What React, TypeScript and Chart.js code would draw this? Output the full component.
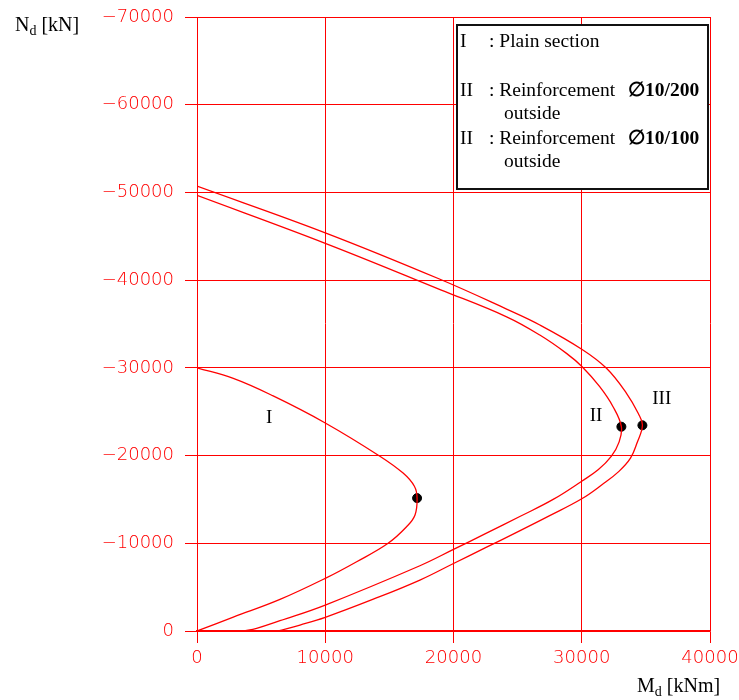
import React, { useEffect, useRef } from "react";
import { Chart, registerables } from "chart.js";

Chart.register(...registerables);

// Curve I : plain section  (M [kNm], N [kN])
const M_I = [0, 2830, 5940, 10000, 14260, 16070, 16950, 17160, 17000, 16340, 14900, 12450, 10000, 6470, 2830, 0];
const N_I = [-30000, -28800, -26800, -23720, -19930, -18000, -16500, -15150, -13230, -11880, -10000, -7900, -6000, -3600, -1580, 0];

// Curve II : reinforcement Ø10/200 outside
const M_II = [0, 10000, 19000, 24140, 26730, 28810, 30030, 31400, 32440, 33090, 32900, 32300, 31300, 30000, 27770, 25170, 22570, 20000, 17380, 10000, 6470, 4650, 3600];
const N_II = [-49660, -44200, -38900, -35820, -33740, -31650, -30130, -27850, -25570, -23290, -21500, -19900, -18400, -17080, -15000, -13050, -11150, -9300, -7440, -2960, -1170, -300, 0];

// Curve III : reinforcement Ø10/100 outside
const M_III = [0, 10000, 18950, 24140, 26730, 30030, 31930, 33490, 34400, 34730, 34300, 33800, 32900, 31600, 30000, 27500, 25000, 22500, 20000, 17380, 13700, 10000, 8030, 6330];
const N_III = [-50720, -45400, -40100, -36700, -34890, -32100, -29950, -27100, -24820, -23450, -21400, -19700, -18200, -16700, -15070, -13150, -11300, -9500, -7700, -5810, -3600, -1560, -680, 0];

// Marked points (nose of each curve)
const DOT_M = [17160, 33090, 34730];
const DOT_N = [-15150, -23290, -23450];

// Curve labels
const LABEL_TEXT = ["I", "II", "III"];
const LABEL_M = [5630, 31120, 36240];
const LABEL_N = [-23750, -23980, -25880];

const X_MIN = 0;
const X_MAX = 40000;
const Y_MIN = -70000;
const Y_MAX = 0;
const STEP = 10000;

const RED = "rgb(255,0,0)";

const toPts = (xs: number[], ys: number[]) => xs.map((x, i) => ({ x, y: ys[i] }));

const annotations = {
  id: "annotations",
  afterDraw(chart: any) {
    const ctx = chart.ctx as CanvasRenderingContext2D;
    const xs = chart.scales.x;
    const ys = chart.scales.y;
    ctx.save();
    // curve labels
    ctx.fillStyle = "#000";
    ctx.font = "19px 'Liberation Serif', 'Times New Roman', serif";
    ctx.textAlign = "center";
    ctx.textBaseline = "alphabetic";
    LABEL_TEXT.forEach((t, i) => {
      ctx.fillText(t, xs.getPixelForValue(LABEL_M[i]), ys.getPixelForValue(LABEL_N[i]));
    });

    // legend box
    ctx.fillStyle = "#fff";
    ctx.fillRect(457, 25, 251, 164);
    ctx.strokeStyle = "#111";
    ctx.lineWidth = 2;
    ctx.strokeRect(457, 25, 251, 164);

    ctx.fillStyle = "#000";
    ctx.textAlign = "left";
    const serif = "19.5px 'Liberation Serif', 'Times New Roman', serif";
    const serifB = "bold 19.5px 'Liberation Serif', 'Times New Roman', serif";
    ctx.font = serif;
    ctx.fillText("I", 460, 47);
    ctx.fillText(": Plain section", 489, 47);
    ctx.fillText("II", 460, 96);
    ctx.fillText(": Reinforcement", 489, 96);
    ctx.fillText("outside", 504, 119);
    ctx.fillText("II", 460, 144);
    ctx.fillText(": Reinforcement", 489, 144);
    ctx.fillText("outside", 504, 167);
    ctx.font = serifB;
    ctx.fillText("\u220510/200", 628, 96);
    ctx.fillText("\u220510/100", 628, 144);

    // axis titles
    const title = "20px 'Liberation Serif', 'Times New Roman', serif";
    const sub = "14px 'Liberation Serif', 'Times New Roman', serif";
    let x = 15;
    ctx.font = title;
    ctx.fillText("N", x, 31);
    x += ctx.measureText("N").width;
    ctx.font = sub;
    ctx.fillText("d", x, 35);
    x += ctx.measureText("d").width;
    ctx.font = title;
    ctx.fillText(" [kN]", x, 31);

    x = 637;
    ctx.fillText("M", x, 692);
    x += ctx.measureText("M").width;
    ctx.font = sub;
    ctx.fillText("d", x, 696);
    x += ctx.measureText("d").width;
    ctx.font = title;
    ctx.fillText(" [kNm]", x, 692);
    ctx.restore();
  },
};

export default function App() {
  const ref = useRef<HTMLCanvasElement | null>(null);
  useEffect(() => {
    if (!ref.current) return;
    const lineDs = (label: string, xs: number[], ys: number[]) => ({
      label,
      data: toPts(xs, ys),
      showLine: true,
      borderColor: RED,
      borderWidth: 1.3,
      pointRadius: 0,
      tension: 0.4,
      fill: false,
    });
    const tickFont = { family: "'DejaVu Sans', sans-serif", size: 18, weight: "200" as any };
    const chart = new Chart(ref.current, {
      type: "scatter",
      data: {
        datasets: [
          lineDs("I", M_I, N_I),
          lineDs("II", M_II, N_II),
          lineDs("III", M_III, N_III),
          {
            label: "points",
            data: toPts(DOT_M, DOT_N),
            pointRadius: 4.5,
            pointBackgroundColor: "#000",
            pointBorderColor: "#000",
            showLine: false,
          } as any,
        ],
      },
      options: {
        animation: false,
        responsive: false,
        layout: { padding: { top: 17, right: 29, left: 0, bottom: 0 } },
        plugins: { legend: { display: false }, tooltip: { enabled: false } },
        scales: {
          x: {
            type: "linear",
            min: X_MIN,
            max: X_MAX,
            afterFit: (s: any) => {
              s.height = 69;
              s.paddingLeft = 0;
              s.paddingRight = 0;
            },
            ticks: { stepSize: STEP, color: RED, font: tickFont, padding: 5, maxRotation: 0, callback: (v: any) => String(v) },
            grid: { color: RED, lineWidth: 1, tickLength: 12, tickColor: RED, tickWidth: 1 },
            border: { color: RED, width: 1.5 },
          },
          y: {
            type: "linear",
            min: Y_MIN,
            max: Y_MAX,
            reverse: true,
            afterFit: (s: any) => {
              s.width = 197;
              s.paddingTop = 0;
              s.paddingBottom = 0;
            },
            ticks: {
              stepSize: STEP,
              color: RED,
              font: tickFont,
              padding: 11,
              callback: (v: any) => (Number(v) === 0 ? "0" : "\u2212" + Math.abs(Number(v))),
            },
            grid: { color: RED, lineWidth: 1, tickLength: 12, tickColor: RED, tickWidth: 1 },
            border: { color: RED, width: 1 },
          },
        },
      },
      plugins: [annotations],
    });
    return () => chart.destroy();
  }, []);
  return (
    <div style={{ position: "absolute", left: 0, top: 0, width: 739, height: 700, background: "#fff" }}>
      <canvas ref={ref} width={739} height={700} style={{ display: "block" }} />
    </div>
  );
}
